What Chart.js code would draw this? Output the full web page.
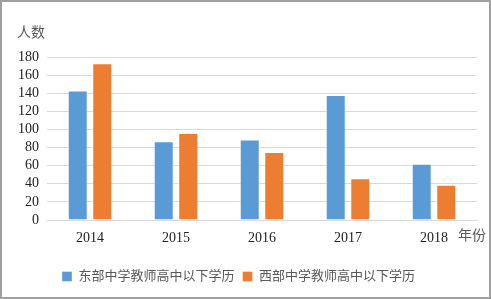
<!DOCTYPE html>
<html>
<head>
<meta charset="utf-8">
<script src="https://cdn.jsdelivr.net/npm/chart.js@4/dist/chart.umd.min.js"></script>
<style>
    html, body { margin: 0; padding: 0; background: #fff; }
    #wrap { width: 491px; height: 299px; position: relative; }
</style>
</head>
<body>
<div id="wrap"><canvas id="chart" width="491" height="299"></canvas></div>
<script>
// Chart data
const years = ['2014', '2015', '2016', '2017', '2018'];
const eastValues = [143, 87, 89, 138, 62];
const westValues = [173, 96, 75, 46, 39];
const seriesNames = ['东部中学教师高中以下学历', '西部中学教师高中以下学历'];
const yTitle = '人数';
const xTitle = '年份';

const FONT = '"Liberation Serif", "Times New Roman", "Noto Sans CJK SC", serif';

// extra labels + outer frame
const decorations = {
    id: 'decorations',
    afterDraw(chart) {
        const ctx = chart.ctx;
        const area = chart.chartArea;
        ctx.save();
        ctx.fillStyle = '#595959';
        ctx.font = '14px ' + FONT;
        ctx.textBaseline = 'middle';
        ctx.textAlign = 'left';
        ctx.fillText(yTitle, 17, 33);
        ctx.fillText(xTitle, area.right - 19, 236);
        ctx.strokeStyle = '#a0a0a0';
        ctx.lineWidth = 2;
        ctx.strokeRect(1, 1, chart.width - 2, chart.height - 2);
        ctx.restore();
    }
};

new Chart(document.getElementById('chart'), {
    type: 'bar',
    data: {
        labels: years,
        datasets: [
            {
                label: seriesNames[0],
                data: eastValues,
                backgroundColor: '#5b9bd5',
                borderColor: 'rgba(255,255,255,0.35)',
                borderWidth: 1
            },
            {
                label: seriesNames[1],
                data: westValues,
                backgroundColor: '#ed7d31',
                borderColor: 'rgba(255,255,255,0.35)',
                borderWidth: 1
            }
        ]
    },
    options: {
        responsive: false,
        animation: false,
        categoryPercentage: 0.57,
        barPercentage: 0.816,
        layout: { padding: { top: 57, right: 14, left: 0, bottom: 6 } },
        scales: {
            x: {
                grid: { display: false, drawTicks: false },
                border: { color: '#d9d9d9', width: 1 },
                ticks: { color: '#222', font: { family: FONT, size: 14 }, padding: 10 },
                afterFit(scale) { scale.height = 42; }
            },
            y: {
                min: 0,
                max: 180,
                ticks: { stepSize: 20, autoSkip: false, color: '#222', font: { family: FONT, size: 14 }, padding: 8 },
                grid: { color: '#d9d9d9', drawTicks: false },
                border: { display: false },
                afterFit(scale) { scale.width = 47; }
            }
        },
        plugins: {
            legend: {
                position: 'bottom',
                labels: {
                    boxWidth: 10,
                    boxHeight: 10,
                    padding: 8,
                    color: '#595959',
                    font: { family: FONT, size: 13 }
                }
            },
            tooltip: { enabled: false }
        }
    },
    plugins: [decorations]
});
</script>
</body>
</html>
